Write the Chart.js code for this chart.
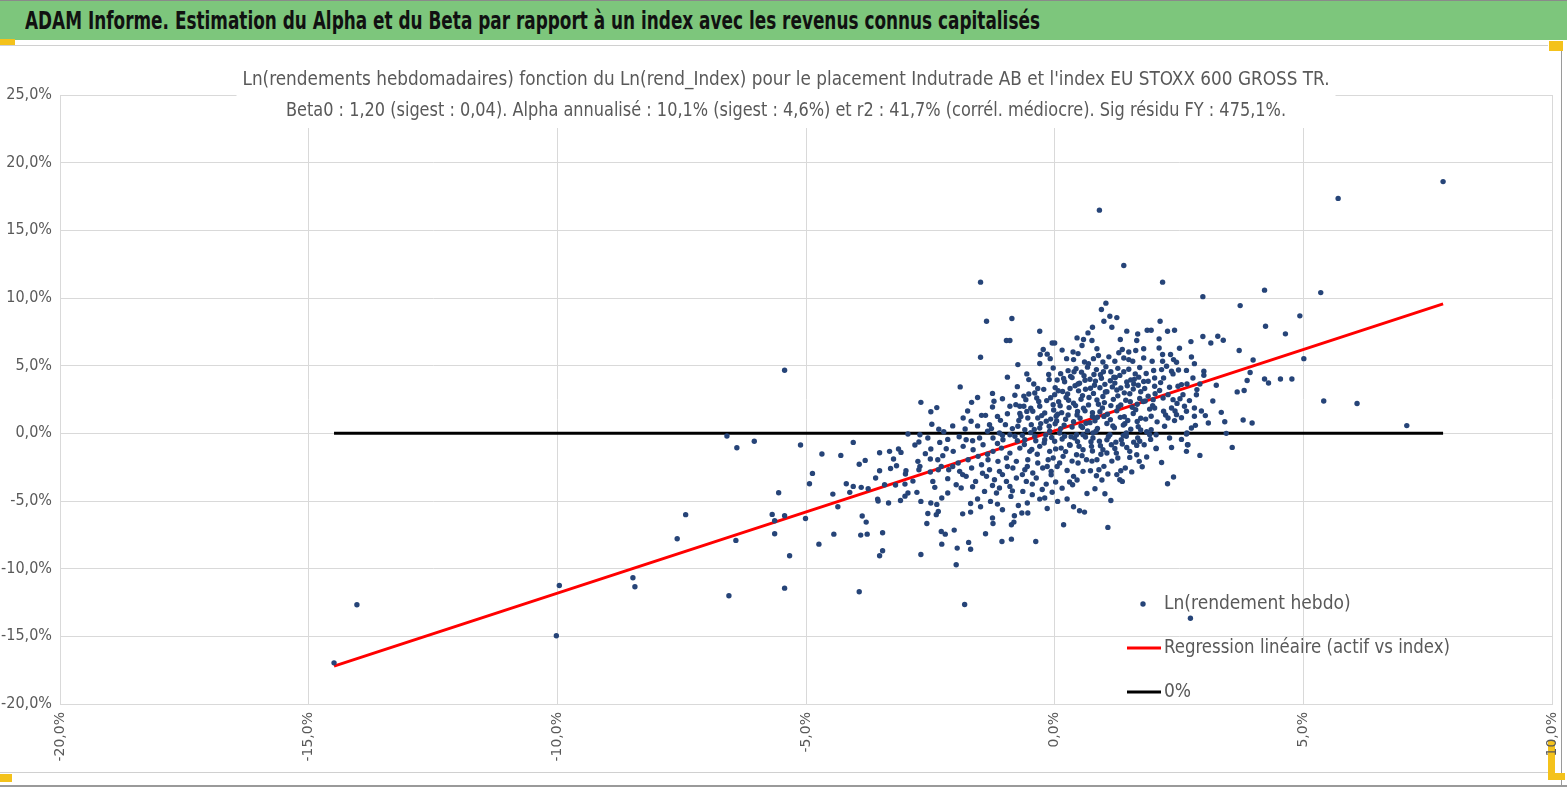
<!DOCTYPE html>
<html>
<head>
<meta charset="utf-8">
<script src="https://cdn.jsdelivr.net/npm/chart.js@4.4.0/dist/chart.umd.min.js"></script>
<style>
html, body { margin: 0; padding: 0; background: #fff; }
body { width: 1567px; height: 787px; position: relative; overflow: hidden; font-family: "Liberation Sans Narrow", "DejaVu Sans Condensed", sans-serif; }
#entete { position: absolute; left: 0; top: 0; width: 1567px; height: 40px; background: #7dc67c; border-top: 1px solid #8a8a8a; box-sizing: border-box; z-index: 2; }
#entete span { position: absolute; left: 25px; top: 5px; font-size: 25px; font-weight: bold; color: #111; white-space: nowrap; transform-origin: 0 50%; }
#grafico { position: absolute; left: 0; top: 0; z-index: 1; }
.trait { position: absolute; background: #d0d0d0; z-index: 0; }
.poignee { position: absolute; background: #f4c21b; z-index: 0; }
</style>
</head>
<body>
<div id="entete"><span id="titreEntete"></span></div>
<div class="trait" style="left:0;top:45px;width:1548px;height:1px"></div>
<div class="trait" style="left:1561px;top:45px;width:1px;height:742px;background:#9a9a9a"></div>
<div class="trait" style="left:0;top:772px;width:1548px;height:1px"></div>
<div class="trait" style="left:0;top:785px;width:1567px;height:2px;background:#9a9a9a"></div>
<div class="poignee" style="left:0;top:39px;width:15px;height:6px;z-index:3"></div>
<div class="poignee" style="left:1549px;top:41px;width:14px;height:10px;z-index:3"></div>
<div class="poignee" style="left:1548px;top:740px;width:7px;height:40px"></div>
<div class="poignee" style="left:1548px;top:773px;width:17px;height:7px"></div>
<div class="poignee" style="left:0;top:774px;width:12px;height:8px"></div>
<canvas id="grafico" width="1567" height="787"></canvas>
<script>
const titreEntete = "ADAM Informe. Estimation du Alpha et du Beta par rapport à un index avec les revenus connus capitalisés";
const titreLignes = [
  "Ln(rendements hebdomadaires) fonction du Ln(rend_Index) pour le placement Indutrade AB et l'index EU STOXX 600 GROSS TR.",
  "Beta0 : 1,20 (sigest : 0,04). Alpha annualisé : 10,1% (sigest : 4,6%) et r2 : 41,7% (corrél. médiocre). Sig résidu FY : 475,1%."
];
const legendes = ["Ln(rendement hebdo)", "Regression linéaire (actif vs index)", "0%"];

// axes (en %)
const bornesX = [-20, 10];
const bornesY = [-20, 25];
const pas = 5;

// régression lue dans le titre : pente et constante hebdo (%)
const beta0 = 1.20;
const alphaHebdo = 0.19;

// [Ln(rend_Index) %, Ln(rendement hebdo) %]
const pointsExtremes = [
  [-14.49,-16.96],[-14.03,-12.67],[-9.96,-11.24],[-10.02,-14.96],[-8.48,-10.67],[-8.44,-11.34],
  [-7.59,-7.79],[-7.42,-6.01],[0.90,16.49],[1.39,12.40],[-1.49,11.17],[2.73,-13.66],[-1.81,-12.65],
  [7.81,18.6],[5.70,17.36],[5.35,10.4],[7.08,0.57],[6.08,2.2],[5.41,2.39],[4.93,8.68],[5.01,5.52],
  [4.64,7.35],[4.24,7.91],[4.22,10.58],[4.77,4.02],[4.54,4.02],[4.30,3.72],[4.22,4.02],[3.99,5.42],
  [3.93,4.49],[3.87,3.9],[3.81,3.16],[3.67,3.06],[3.79,0.98],[3.97,0.76],[3.71,6.12],[3.73,9.44],
  [2.98,10.1],[2.17,11.17]
];
const pointsGauche = [
  [-5.43,4.66],[-6.59,-0.2],[-6.39,-1.06],[-6.04,-0.59],[-5.11,-0.86],[-4.68,-1.53],[-4.30,-1.63],
  [-4.05,-0.67],[-3.93,-2.29],[-3.81,-2.0],[-3.52,-1.43],[-3.32,-1.33],[-3.14,-1.16],[-3.24,-1.90],
  [-3.09,-1.41],[-3.18,-2.39],[-3.52,-2.76],[-4.87,-2.96],[-4.93,-3.72],[-4.19,-3.72],[-4.12,-4.36],
  [-4.05,-3.92],[-3.89,-3.99],[-3.75,-4.09],[-3.42,-3.80],[-3.20,-3.82],[-4.46,-4.49],[-4.36,-5.42],
  [-5.55,-4.39],[-5.68,-5.99],[-5.63,-6.46],[-5.43,-6.09],[-5.01,-6.29],[-5.63,-7.42],[-5.33,-9.05],
  [-6.41,-7.91],[-6.55,-12.0],[-5.43,-11.44],[-3.93,-11.71],[-4.74,-8.19],[-4.44,-7.45],[-3.90,-7.52],
  [-3.77,-7.45],[-3.87,-6.11],[-3.79,-6.56],[-3.46,-7.35],[-3.52,-9.05],[-3.46,-8.68],[-3.56,-4.86],
  [-3.55,-5.0],[-3.34,-5.15],[-3.10,-4.96],[-3.01,-4.64],[-2.95,-4.41],[-3.01,-3.75],[-2.99,-2.76],
  [-2.85,-3.53],[-2.77,-4.36],[-2.69,-5.03],[-2.69,-8.95],[-2.55,-5.92],[-2.57,-6.66],[-2.49,-5.15],
  [-2.37,-5.25],[-2.34,-5.77],[-2.38,-6.01],[-2.28,-7.25],[-2.20,-7.45],[-2.27,-8.19],[-2.27,-4.78],
  [-2.15,-4.41],[-2.45,-3.55],[-2.41,-3.99],[-2.50,-2.86],[-2.69,2.29],[-2.49,1.60],[-2.37,1.90],
  [-2.47,0.67],[-2.33,0.30],[-2.23,0.12],[-2.71,-0.10],[-2.95,-0.05],[-2.81,-0.86],[-2.73,-0.64],
  [-2.49,-1.16],[-2.31,-0.67],[-2.18,-1.14],[-2.50,-1.90],[-2.75,-2.07],[-2.71,-2.44],[-2.73,-2.69],
  [-2.34,-2.69],[-2.28,-2.44],[-2.13,-2.69]
];
const pointsCentreHaut = [
  [-1.37,8.28],[-0.86,8.48],[-0.97,6.86],[-0.90,6.86],[-1.49,5.62],[-0.30,7.54],[-0.05,6.68],[0.0,6.68],
  [-0.23,6.19],[-0.29,5.82],[-0.09,5.52],[-0.30,5.16],[-0.74,5.08],[-0.56,4.39],[-0.52,3.97],[-0.34,3.31],
  [-0.11,3.97],[-1.90,3.43],[-1.67,2.29],[-1.22,2.37],[-1.84,1.13],[-1.68,0.89],[-1.47,1.33],[-1.39,1.33],
  [-1.80,0.32],[-1.31,0.64],[-1.27,0.35],[-1.09,0.96],[-0.99,0.64],[-0.90,2.0],[-0.80,2.81],[-0.78,2.12],
  [-0.70,2.0],[-0.58,2.49],[-0.62,2.0],[-0.52,2.91],[-0.40,2.98],[-0.70,1.46],[-0.54,1.13],[-0.44,1.63],
  [-0.30,2.0],[-0.20,1.50],[-0.34,1.13],[-0.17,0.89],[-0.03,2.12],[0.0,2.86],[0.03,1.26],[-0.74,0.52],
  [-0.60,0.27],[-0.47,0.64],[-0.30,0.39],[-0.10,0.15],[-1.11,0.02],[-0.90,-0.10]
];
const pointsCentreBas = [
  [-1.98,-9.71],[-1.73,-8.06],[-1.69,-8.56],[-1.96,-8.48],[-2.02,-7.15],[-1.39,-7.42],[-1.06,-7.99],
  [-0.87,-7.82],[-0.38,-7.99],[-1.24,-6.66],[-0.87,-6.75],[-0.82,-6.56],[-0.81,-6.09],[-0.66,-5.89],
  [-0.54,-5.89],[-0.73,-5.33],[-1.49,-5.42],[-1.69,-5.18],[-1.69,-5.82],[-1.29,-5.03],[-1.15,-5.23],
  [-0.88,-4.66],[-0.45,-4.53],[-0.30,-4.86],[-0.20,-4.78],[-1.41,-4.29],[-1.17,-4.41],[-1.11,-4.04],
  [-0.90,-3.92],[-0.64,-4.29],[-1.88,-4.04],[-1.59,-3.55],[-1.98,-3.80],[-1.78,-3.18],[-1.37,-3.18],
  [-1.21,-3.43],[-0.97,-3.55],[-0.77,-3.30],[-0.57,-3.55],[-0.37,-3.30],[-0.17,-3.75],[-1.91,-2.81],
  [-1.67,-2.56],[-1.47,-2.32],[-1.31,-2.69],[-1.11,-2.81],[-0.84,-2.56],[-0.60,-2.69],[-0.44,-2.93],
  [-0.24,-2.56],[-0.07,-2.81],[-1.94,-2.19],[-1.74,-1.95],[-1.54,-1.70],[-1.34,-1.95],[-1.14,-2.07],
  [-0.97,-1.82],[-0.77,-2.07],[-0.54,-1.95],[-0.34,-2.19],[-0.13,-1.95],[-2.04,-1.33],[-1.84,-0.96],
  [-1.64,-1.21],[-1.44,-0.84],[-1.24,-1.33],[-1.07,-1.09],[-0.90,-1.46],[-0.70,-1.09],[-0.50,-1.33],
  [-0.30,-0.96],[-0.10,-1.33],[-1.24,-0.35],[-1.04,-0.47],[-0.80,-0.22],[-0.60,-0.47],[-0.40,-0.22],
  [-0.20,-0.47],[-1.78,-0.47],[-1.51,-0.35],
  [1.07,-6.95],[0.18,-6.75],[0.06,-5.03],[0.38,-5.42],[0.50,-5.72],[0.60,-5.82],[1.13,-4.96],[1.01,-4.46],
  [0.81,-4.09],[1.31,-3.43],[1.36,-3.55],[1.07,-3.01],[0.84,-3.13],[0.30,-3.60],[0.36,-3.80],[0.02,-3.60],
  [0.38,-3.18],[0.57,-2.81],[0.72,-2.76],[0.89,-2.69],[0.99,-2.44],[1.33,-2.76],[1.42,-2.56],[1.76,-2.47],
  [1.70,-2.07],[2.27,-3.72],[2.39,-3.23],[2.92,-1.63],[2.65,-1.33],[2.67,-0.84],[2.65,-0.05],[2.04,-1.13],
  [1.91,-0.10],[1.80,-0.84],[1.65,-0.89],[1.65,-1.58],[1.51,-1.33],[1.51,-1.78],[1.24,-1.46],[1.27,-1.82],
  [1.14,-0.84],[1.34,-0.47],[1.44,-0.22],[0.97,-1.21],[0.90,-0.59],[0.74,-0.96],[0.77,-0.35],[0.57,-1.21],
  [0.64,-1.95],[0.47,-2.19],[0.44,-1.58],[0.30,-0.84],[0.17,-1.70],[0.10,-2.19],[-0.03,-1.82],[0.0,-0.59],
  [0.20,-0.22],[0.40,-0.35],[0.57,-0.10],[1.11,-0.10],[1.71,-0.59],[-0.07,-3.06],[0.13,-1.09]
];
const pointsCentreDroit = [
  [1.03,9.62],[0.94,9.15],[1.11,8.65],[0.99,8.28],[1.15,7.84],[0.76,7.84],[0.67,7.42],[0.58,6.93],
  [0.75,6.86],[0.55,6.49],[1.32,6.93],[1.67,7.34],[1.86,7.62],[1.65,6.86],[1.49,6.01],[1.36,6.19],
  [1.39,5.57],[1.63,6.12],[1.79,5.57],[0.37,6.01],[0.47,5.89],[0.24,5.52],[0.38,5.45],[0.78,5.52],
  [0.60,5.27],[0.97,5.27],[1.21,5.33],[1.57,5.33],
  [-0.03,4.83],[0.12,4.41],[0.27,4.63],[0.43,4.78],[0.54,4.52],[0.66,4.89],[0.84,4.71],[1.03,4.92],
  [1.13,4.55],[1.27,4.80],[1.49,4.74],[1.71,4.86],[1.84,4.42],
  [0.05,3.94],[0.20,3.81],[0.35,4.12],[0.50,3.70],[0.71,4.00],[0.82,3.86],[0.94,4.07],[1.12,3.88],
  [1.22,4.13],[1.45,3.80],[1.60,3.99],[1.79,3.83],
  [0.01,3.38],[0.16,3.09],[0.31,3.31],[0.48,3.14],[0.62,3.26],[0.78,2.95],[0.91,3.37],[1.05,3.08],
  [1.25,3.20],[1.40,2.99],[1.58,3.27],[1.73,3.07],[1.88,2.74],
  [-0.08,2.63],[0.08,2.33],[0.23,2.65],[0.38,2.22],[0.53,2.52],[0.68,2.10],[0.85,2.46],[1.00,2.27],
  [1.18,2.51],[1.33,2.09],[1.52,2.34],[1.66,2.15],[1.82,2.39],
  [-0.02,1.72],[0.14,1.53],[0.29,1.90],[0.45,1.35],[0.61,1.66],[0.76,1.24],[0.91,1.60],[1.06,1.41],
  [1.25,1.66],[1.40,1.23],[1.58,1.47],[1.73,1.11],
  [0.04,0.92],[0.19,0.61],[0.38,0.86],[0.53,0.55],[0.71,0.79],[0.86,0.36],[1.05,0.73],[1.20,0.42],
  [1.38,0.61],[1.53,0.30],[1.68,0.49],[1.85,0.12],
  [0.10,0.02],[0.44,-0.10],[0.77,0.02],[1.44,0.02],[1.67,-0.35]
];
const pointsDroite = [
  [2.98,7.15],[3.14,6.68],[3.28,7.17],[3.39,6.88],[3.18,2.39],[3.42,0.86],[3.45,0.0],[3.57,-1.04],
  [3.09,0.76],[3.03,1.31],[2.74,6.78],[2.51,6.29],[2.75,5.64],[2.81,5.15],[3.0,4.59],[3.0,4.29],
  [2.92,3.65],[2.86,3.23],
  [1.94,7.62],[2.12,8.28],[2.27,7.54],[2.41,7.62],[2.10,6.98],[2.10,6.31],[2.17,5.82],[1.96,5.33],
  [2.17,5.33],[2.33,5.82],[2.39,5.45],[2.25,4.96],[1.99,4.64],[2.15,4.71],[2.35,4.59],[2.49,4.68],
  [2.01,4.09],[2.19,4.09],[2.38,4.39],[2.55,3.60],[2.66,3.65],[2.78,4.09],[2.01,3.48],[2.11,3.16],
  [2.28,2.86],[2.48,3.48],[2.58,2.86],[2.71,2.42],[1.98,2.49],[2.18,2.61],[2.38,2.49],[2.01,1.87],
  [2.19,1.63],[2.35,1.87],[2.45,1.38],[2.61,2.0],[2.65,1.63],[2.81,1.87],[2.81,1.26],[1.94,1.26],
  [2.28,1.13],[2.41,0.94],[2.75,0.39],[2.83,0.59],[2.66,0.02],[1.94,0.27],[2.04,-0.10],[2.68,-0.84],
  [2.04,-1.09]
];
const pointsNoyau = [
  [0.22,1.04],[0.35,0.47],[0.51,1.12],[0.66,0.18],[0.81,0.93],[0.96,1.88],[1.12,1.01],[1.27,2.77],
  [1.41,0.71],[1.56,1.92],[1.71,2.58],[0.11,2.04],[0.26,2.91],[0.41,3.52],[0.56,2.79],[0.72,3.33],
  [0.86,1.19],[1.01,3.62],[1.16,3.43],[1.31,4.28],[1.46,3.51],[1.62,4.39],[0.15,-0.42],[0.31,-0.88],
  [0.46,-0.61],[0.62,-0.27],[0.76,-1.31],[0.92,-0.92],[1.05,-0.48],[1.21,-1.12],[1.36,-0.79],[-0.11,0.52],
  [-0.26,1.31],[-0.41,0.28],[-0.56,1.62],[-0.21,-0.71],[-0.46,-1.19],[-0.61,-0.82],[0.06,1.41],[0.97,2.72],
  [1.51,2.93],[0.32,4.21],[0.61,3.92],[0.92,4.33],[1.21,3.71],[0.46,1.62],[0.76,1.52],[1.32,1.18],
  [1.66,0.88],[1.91,1.79],[1.81,3.31],[2.02,2.92],[2.31,3.41],[2.21,0.52],[2.46,2.21],[0.01,0.71],
  [-0.16,2.42],[-0.36,2.61],[-0.06,-0.31],[0.56,0.43]
];
const pointsNoyau2 = [
  [-0.72,0.95],[-0.65,-0.15],[-0.48,0.05],[-0.38,-0.55],[-0.28,0.72],[-0.18,-0.12],[-0.08,1.05],[0.02,-1.15],
  [0.12,0.35],[0.27,1.35],[0.33,-0.25],[0.42,2.05],[0.49,-0.95],[0.58,1.85],[0.63,0.75],[0.69,2.65],
  [0.73,-0.62],[0.80,3.55],[0.83,0.15],[0.88,2.15],[0.93,-1.55],[0.99,1.25],[1.02,3.05],[1.08,-0.25],
  [1.13,2.05],[1.17,0.55],[1.23,-0.65],[1.28,1.95],[1.33,3.35],[1.38,-0.15],[1.43,2.45],[1.47,0.95],
  [1.53,3.95],[1.59,-0.65],[1.63,1.75],[1.68,3.55],[1.73,0.25],[1.78,2.35],[1.83,1.05],[1.88,3.85],
  [1.93,-0.45],[1.97,2.05],[2.06,0.85],[2.13,3.75],[2.23,1.35],[2.31,-0.35],[2.42,1.65],[2.52,2.55],
  [0.07,3.15],[0.18,4.05],[0.28,2.45],[0.39,4.55],[0.47,3.65],[0.59,4.25],[0.68,5.15],[0.79,4.35],
  [0.88,5.75],[0.98,4.55],[1.09,5.65],[1.19,4.15],[1.29,5.95],[1.39,4.55],[1.49,5.45],[1.59,3.65],
  [1.69,4.15],[1.79,6.25],[-0.12,4.35],[-0.22,3.25],[-0.42,3.65],[-0.62,2.75],[-0.32,2.35],[-0.48,1.85],
  [-0.68,1.25],[-0.85,0.35],[-0.95,1.45],[-1.05,-0.15],[-1.15,1.25],[-1.25,2.95],[-1.35,0.15],[-1.55,0.55],
  [-1.65,-0.55],[-1.75,1.65],[-1.92,-0.25],[-2.05,0.55],[-2.15,-0.45],[-2.25,-1.65],[-2.05,-2.45],[-1.85,-3.05],
  [-1.65,-3.95],[-1.45,-2.95],[-1.25,-3.85],[-1.05,-3.05],[-0.85,-4.25],[-0.65,-3.05],[-0.45,-3.75],[-0.25,-4.15],
  [-0.05,-4.35],[0.15,-4.05],[0.25,-2.75],[0.45,-3.45],[0.65,-4.45],[0.75,-2.05],[0.95,-3.45],[1.15,-2.05],
  [1.25,-3.05],[1.55,-2.85],[1.85,-1.75],[2.15,-2.15],[2.35,-1.05],[2.55,-0.45],[-1.35,-1.55],[-1.15,-0.75],
  [-0.95,-2.45],[-0.75,-0.55],[-0.55,-2.45],[-0.35,-1.55],[-0.15,-2.45],[0.05,-2.45],[0.22,-1.35],[0.35,-2.05],
  [0.55,-1.65],[0.85,-1.95],[1.05,-1.45],[1.45,-1.05],[-1.55,-4.85],[-1.05,-5.65],[-0.55,-5.15],[-0.15,-5.55],
  [0.25,-4.85],[-1.85,-5.95],[-1.25,-6.25],[-2.15,-3.35],[-2.35,-1.95],[-2.55,-0.35],[-2.60,-1.50],[-3.00,-3.00],
  [-3.30,-2.60],[-3.60,-3.30],[-1.05,2.55],[-1.25,1.95],[-1.55,2.65],[-0.75,3.45],[-0.95,4.15],[-0.15,5.85],
  [0.15,6.15],[0.45,7.05],[1.25,8.55],[0.85,6.25],[1.45,7.55],[2.45,5.25],[2.65,4.65],[2.85,2.85],
  [2.55,1.15],[2.95,1.65],[3.25,3.55],[3.35,1.55]
];
const rendementsHebdo = [].concat(pointsExtremes, pointsGauche, pointsCentreHaut, pointsCentreBas,
  pointsCentreDroit, pointsDroite, pointsNoyau, pointsNoyau2);

function fmtPct(v) {
  return v.toFixed(1).replace('.', ',') + '%';
}

// bandeau : texte mis à la largeur du bandeau d'origine
const spanEntete = document.getElementById("titreEntete");
spanEntete.textContent = titreEntete;
spanEntete.style.transform = 'scaleX(' + (1015 / spanEntete.getBoundingClientRect().width) + ')';

const xs = rendementsHebdo.map(p => p[0]);
const xMin = Math.min(...xs), xMax = Math.max(...xs);
const droiteRegression = [xMin, xMax].map(x => ({ x: x, y: beta0 * x + alphaHebdo }));
const ligneZero = [xMin, xMax].map(x => ({ x: x, y: 0 }));

const police = '"Liberation Sans Narrow", "DejaVu Sans Condensed", sans-serif';
const gris = '#595959';

// titre (fond blanc par-dessus la grille) et légende dans la zone du graphique
const habillage = {
  id: 'habillage',
  afterDraw(chart) {
    const c = chart.ctx;
    c.save();
    c.font = '19px ' + police;
    const largeurs = [1087, 1000];
    const cx = 786;
    c.fillStyle = '#fff';
    c.fillRect(cx - largeurs[0] / 2 - 6, 62, largeurs[0] + 12, 66);
    c.fillStyle = gris;
    c.textAlign = 'center';
    c.textBaseline = 'middle';
    c.fillText(titreLignes[0], cx, 80, largeurs[0]);
    c.fillText(titreLignes[1], cx, 111, largeurs[1]);

    const ds = chart.data.datasets;
    const lx = 1127, tx = 1164, ly = [604, 648, 692];
    c.textAlign = 'left';
    ds.forEach((d, i) => {
      if (i === 0) {
        c.fillStyle = d.backgroundColor;
        c.beginPath();
        c.arc(lx + 16, ly[i], 2.7, 0, Math.PI * 2);
        c.fill();
      } else {
        c.strokeStyle = d.borderColor;
        c.lineWidth = d.borderWidth;
        c.beginPath();
        c.moveTo(lx, ly[i]);
        c.lineTo(lx + 34, ly[i]);
        c.stroke();
      }
      c.fillStyle = gris;
      c.fillText(d.label, tx, ly[i], 286);
    });
    c.restore();
  }
};

const ctx = document.getElementById("grafico").getContext("2d");
new Chart(ctx, {
  type: 'scatter',
  data: {
    datasets: [{
      label: legendes[0],
      data: rendementsHebdo.map(p => ({ x: p[0], y: p[1] })),
      backgroundColor: '#264478',
      borderColor: '#264478',
      borderWidth: 0,
      pointRadius: 2.7
    }, {
      label: legendes[1],
      type: 'line',
      data: droiteRegression,
      borderColor: '#ff0000',
      borderWidth: 3,
      pointRadius: 0,
      fill: false
    }, {
      label: legendes[2],
      type: 'line',
      data: ligneZero,
      borderColor: '#000000',
      borderWidth: 3,
      pointRadius: 0,
      fill: false
    }]
  },
  options: {
    responsive: false,
    animation: false,
    layout: { padding: { left: 0, right: 15, top: 95, bottom: 0 } },
    plugins: {
      legend: { display: false },
      title: { display: false },
      tooltip: { enabled: false }
    },
    scales: {
      x: {
        type: 'linear',
        min: bornesX[0],
        max: bornesX[1],
        afterFit: s => { s.height = 83; s.paddingLeft = 0; s.paddingRight = 0; },
        grid: { color: '#d9d9d9', drawTicks: false },
        border: { color: '#d9d9d9' },
        ticks: {
          stepSize: pas,
          minRotation: 90,
          maxRotation: 90,
          padding: 8,
          color: gris,
          font: { family: 'DejaVu Sans', size: 14 },
          callback: v => fmtPct(v)
        }
      },
      y: {
        min: bornesY[0],
        max: bornesY[1],
        afterFit: s => { s.width = 60; s.paddingTop = 0; s.paddingBottom = 0; },
        grid: { color: '#d9d9d9', drawTicks: false },
        border: { color: '#d9d9d9' },
        ticks: {
          stepSize: pas,
          padding: 8,
          color: gris,
          font: { family: police, size: 16 },
          callback: v => fmtPct(v)
        }
      }
    }
  },
  plugins: [habillage]
});
</script>
</body>
</html>
